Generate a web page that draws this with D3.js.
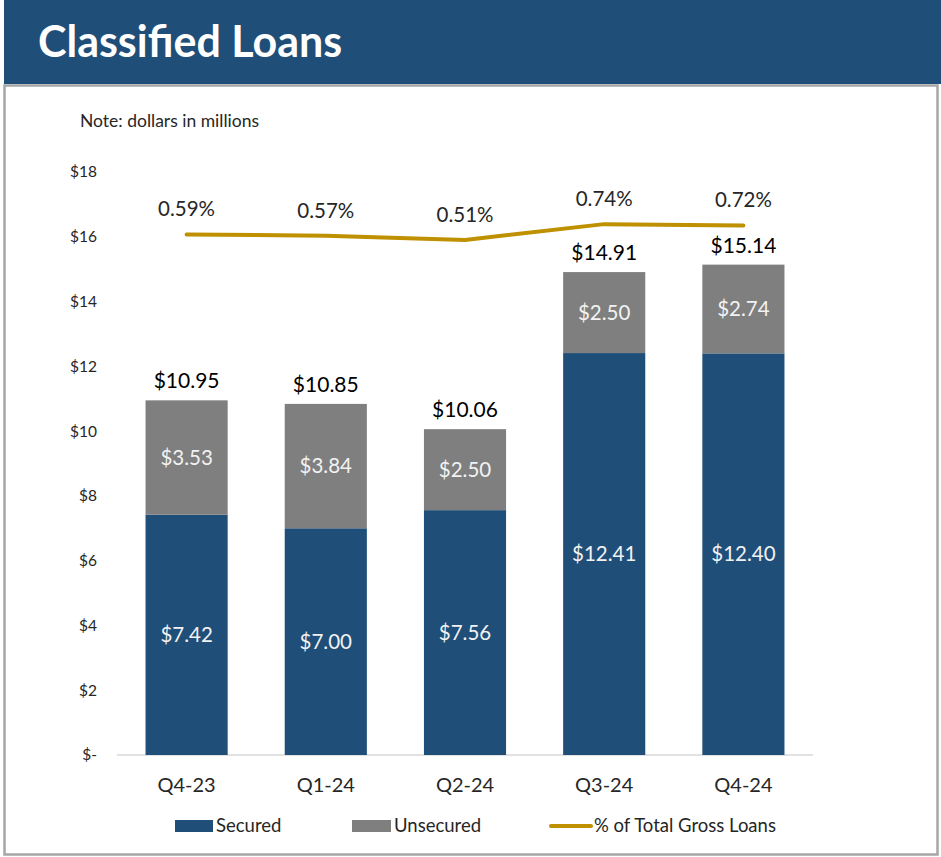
<!DOCTYPE html>
<meta charset="utf-8">
<head>
<style>
body { margin: 0; background: #fff; font-family: "Lato", sans-serif; }
.tick text { fill: #262626; }
</style>
<script src="https://d3js.org/d3.v7.min.js"></script>
</head>
<body>
<div id="chart"></div>
<script>

// data
var quarters = ["Q4-23", "Q1-24", "Q2-24", "Q3-24", "Q4-24"];
var secured = [7.42, 7.00, 7.56, 12.41, 12.40];
var unsecured = [3.53, 3.84, 2.50, 2.50, 2.74];
var totals = [10.95, 10.85, 10.06, 14.91, 15.14];
var pctGross = [0.59, 0.57, 0.51, 0.74, 0.72];
var yTicks = [0, 2, 4, 6, 8, 10, 12, 14, 16, 18];

var W = 941, H = 857;
var blue = "#1f4e79", grey = "#7f7f7f", gold = "#bf9000", ink = "#262626";

var svg = d3.select("#chart").append("svg")
  .attr("width", W).attr("height", H);

// header bar + frame
svg.append("rect").attr("x", 4).attr("y", 0).attr("width", W - 4).attr("height", 84).attr("fill", blue);
svg.append("text").attr("x", 38).attr("y", 57)
  .attr("fill", "#fff").style("font-size", "43px").style("font-weight", "bold")
  .text("Classified Loans");
svg.append("rect").attr("x", 4.5).attr("y", 85.5).attr("width", 933).attr("height", 769)
  .attr("fill", "none").attr("stroke", "#a6a6a6").attr("stroke-width", 2.5);

svg.append("text").attr("x", 80).attr("y", 127).attr("fill", ink)
  .style("font-size", "17.5px").text("Note: dollars in millions");

// scales
var x = d3.scaleBand().domain(quarters).range([117, 813])
  .paddingInner(0.41).paddingOuter(0.205);
var y = d3.scaleLinear().domain([0, 18]).range([755, 172]);
// hidden secondary axis for the % line
var y2 = d3.scaleLinear().domain([-7, 1.5]).range([755, 172]);

// y axis
svg.append("g")
  .attr("transform", "translate(117,0)")
  .call(d3.axisLeft(y).tickValues(yTicks).tickSize(0).tickPadding(20)
    .tickFormat(function(d){ return d === 0 ? "$-" : "$" + d; }))
  .call(function(g){ g.select(".domain").remove(); })
  .selectAll("text").style("font-size", "15.5px").style("font-family", "Lato");

// baseline
svg.append("line").attr("x1", 117).attr("x2", 813).attr("y1", y(0)).attr("y2", y(0))
  .attr("stroke", "#d9d9d9").attr("stroke-width", 1.5);

// x axis labels
svg.append("g")
  .attr("transform", "translate(0," + y(0) + ")")
  .call(d3.axisBottom(x).tickSize(0).tickPadding(23))
  .call(function(g){ g.select(".domain").remove(); })
  .selectAll("text").style("font-size", "20px").style("font-family", "Lato");

var rows = quarters.map(function(q, i){
  return {q: q, sec: secured[i], uns: unsecured[i], tot: totals[i], pct: pctGross[i]};
});

// bars
svg.selectAll(".sec").data(rows).enter().append("rect")
  .attr("x", function(d){ return x(d.q); })
  .attr("width", x.bandwidth())
  .attr("y", function(d){ return y(d.sec); })
  .attr("height", function(d){ return y(0) - y(d.sec); })
  .attr("fill", blue);
svg.selectAll(".uns").data(rows).enter().append("rect")
  .attr("x", function(d){ return x(d.q); })
  .attr("width", x.bandwidth())
  .attr("y", function(d){ return y(d.sec + d.uns); })
  .attr("height", function(d){ return y(d.sec) - y(d.sec + d.uns); })
  .attr("fill", grey);

// inner labels
svg.selectAll(".secLbl").data(rows).enter().append("text")
  .attr("x", function(d){ return x(d.q) + x.bandwidth() / 2; })
  .attr("y", function(d){ return y(d.sec / 2); })
  .attr("dy", "0.35em").attr("text-anchor", "middle")
  .attr("fill", "#f2f2f2").style("font-size", "20.5px")
  .text(function(d){ return "$" + d.sec.toFixed(2); });
svg.selectAll(".unsLbl").data(rows).enter().append("text")
  .attr("x", function(d){ return x(d.q) + x.bandwidth() / 2; })
  .attr("y", function(d){ return y(d.sec + d.uns / 2); })
  .attr("dy", "0.35em").attr("text-anchor", "middle")
  .attr("fill", "#f2f2f2").style("font-size", "20.5px")
  .text(function(d){ return "$" + d.uns.toFixed(2); });

// totals
svg.selectAll(".totLbl").data(rows).enter().append("text")
  .attr("x", function(d){ return x(d.q) + x.bandwidth() / 2; })
  .attr("y", function(d){ return y(d.tot) - 12; })
  .attr("text-anchor", "middle")
  .attr("fill", "#000").style("font-size", "21px")
  .text(function(d){ return "$" + d.tot.toFixed(2); });

// % line
var line = d3.line()
  .x(function(d){ return x(d.q) + x.bandwidth() / 2; })
  .y(function(d){ return y2(d.pct); });
svg.append("path").datum(rows)
  .attr("d", line).attr("fill", "none")
  .attr("stroke", gold).attr("stroke-width", 4)
  .attr("stroke-linecap", "round").attr("stroke-linejoin", "round");

svg.selectAll(".pctLbl").data(rows).enter().append("text")
  .attr("x", function(d){ return x(d.q) + x.bandwidth() / 2; })
  .attr("y", function(d){ return y2(d.pct) - 18; })
  .attr("text-anchor", "middle")
  .attr("fill", ink).style("font-size", "20.5px")
  .text(function(d){ return d.pct.toFixed(2) + "%"; });

// legend
var lg = svg.append("g").style("font-size", "18.5px").attr("fill", ink);
lg.append("rect").attr("x", 175).attr("y", 820).attr("width", 38).attr("height", 12).attr("fill", blue);
lg.append("text").attr("x", 216).attr("y", 832).text("Secured");
lg.append("rect").attr("x", 352).attr("y", 820).attr("width", 39).attr("height", 12).attr("fill", grey);
lg.append("text").attr("x", 394).attr("y", 832).text("Unsecured");
lg.append("line").attr("x1", 551).attr("x2", 591).attr("y1", 826).attr("y2", 826)
  .attr("stroke", gold).attr("stroke-width", 4).attr("stroke-linecap", "round");
lg.append("text").attr("x", 594).attr("y", 832).text("% of Total Gross Loans");

</script>
</body>
</html>
